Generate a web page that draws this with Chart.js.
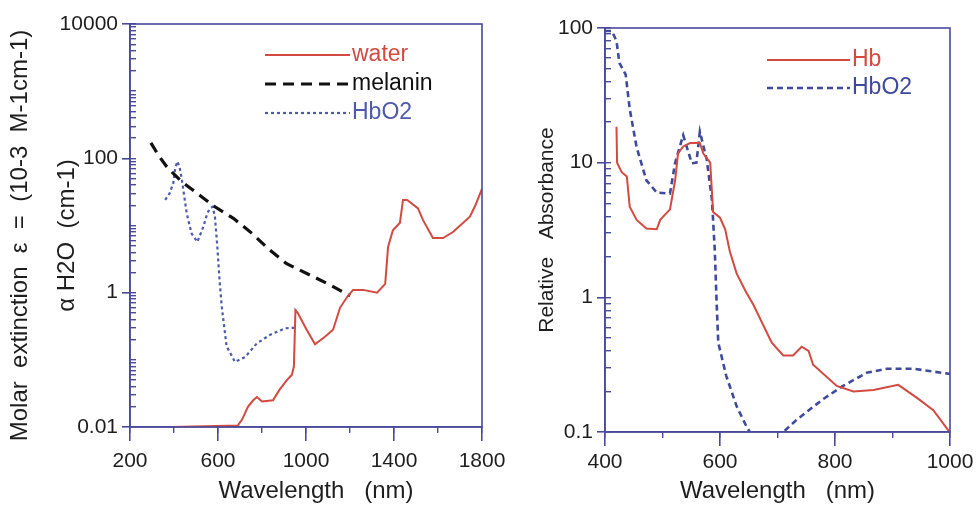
<!DOCTYPE html>
<html>
<head>
<meta charset="utf-8">
<script src="https://cdn.jsdelivr.net/npm/chart.js@4/dist/chart.umd.min.js"></script>
<style>
  html, body { margin: 0; padding: 0; background: #fff; }
  #wrap { position: relative; width: 976px; height: 506px; overflow: hidden; }
  #wrap canvas { position: absolute; top: 0; }
  #leftChart { left: 0; z-index: 2; }
  #rightChart { left: 490px; z-index: 1; }
</style>
</head>
<body>
<div id="wrap">
  <canvas id="rightChart" width="486" height="506"></canvas>
  <canvas id="leftChart" width="520" height="506"></canvas>
</div>
<script>
// left panel: water / melanin / HbO2 (log scale)
const waterNm  = [395, 690, 710, 736, 760, 777, 800, 850, 880, 913, 936, 945, 952, 962, 1003, 1041, 1086, 1123, 1155, 1191, 1214, 1260, 1323, 1360, 1373, 1395, 1427, 1441, 1460, 1509, 1532, 1577, 1623, 1668, 1745, 1770, 1800];
const waterAbs = [0.01, 0.0105, 0.013, 0.02, 0.025, 0.028, 0.024, 0.025, 0.036, 0.05, 0.06, 0.08, 0.55, 0.5, 0.28, 0.17, 0.22, 0.28, 0.6, 0.9, 1.1, 1.1, 1.0, 1.35, 4.8, 8.5, 11, 24, 24, 18, 12, 6.5, 6.5, 8, 13.5, 20, 35];

const melaninNm  = [295, 330, 367, 400, 435, 518, 586, 670, 753, 836, 912, 1018, 1110, 1200];
const melaninAbs = [170, 110, 75, 58, 45, 28, 19, 12.8, 7.7, 4.3, 2.7, 1.83, 1.3, 0.9];

const hbo2LeftNm  = [360, 380, 397, 405, 415, 425, 435, 458, 480, 506, 533, 551, 563, 576, 586, 597, 606, 617, 639, 677, 723, 776, 836, 905, 950];
const hbo2LeftAbs = [24, 30, 43, 70, 90, 75, 50, 15, 7.6, 5.7, 9.5, 15, 18, 19, 13.5, 4.8, 1.7, 0.62, 0.16, 0.093, 0.11, 0.175, 0.235, 0.295, 0.3];

// right panel: Hb / HbO2 relative absorbance
const hbNm  = [420, 421, 429, 438, 443, 455, 472, 490, 496, 513, 522, 527, 536, 548, 565, 571, 583, 588, 600, 609, 617, 629, 645, 658, 690, 710, 727, 742, 754, 762, 803, 832, 867, 910, 942, 971, 997, 1000];
const hbAbs = [18.5, 10, 8.5, 7.9, 4.7, 3.76, 3.24, 3.2, 3.76, 4.5, 7.4, 11.7, 13.2, 14, 14, 11.7, 10, 4.3, 3.9, 3.2, 2.2, 1.5, 1.1, 0.88, 0.46, 0.37, 0.37, 0.43, 0.40, 0.316, 0.22, 0.2, 0.205, 0.224, 0.18, 0.145, 0.103, 0.1];

const hbo2RightNm  = [400, 412, 420, 425, 436, 443, 455, 472, 490, 513, 522, 536, 551, 559, 565, 577, 586, 591, 594, 597, 611, 629, 646, 665, 690, 710, 733, 779, 814, 855, 890, 936, 1000];
const hbo2RightAbs = [95, 95, 80, 55, 45, 25, 13, 7.4, 6.0, 5.9, 10, 16, 9.9, 10, 17, 10.5, 5.3, 2.2, 0.95, 0.46, 0.26, 0.155, 0.11, 0.08, 0.085, 0.1, 0.123, 0.175, 0.22, 0.275, 0.295, 0.295, 0.27];

// axis ticks
const leftXTicks  = [200, 600, 1000, 1400, 1800];
const leftXMinor  = [200, 400, 600, 800, 1000, 1200, 1400, 1600, 1800];
const leftYTicks  = [0.01, 1, 100, 10000];
const rightXTicks = [400, 600, 800, 1000];
const rightXMinor = [400, 500, 600, 700, 800, 900, 1000];
const rightYTicks = [0.1, 1, 10, 100];

const axisColor = '#4a4a9c';
const textColor = '#1e1e1e';
const red = '#d24a40';
const FONT = "'Liberation Sans', Arial, sans-serif";

// 1..9 x 10^n between two decades
function logMinor(lo, hi) {
  const out = [];
  for (let e = lo; e < hi; e++) {
    for (let m = 1; m < 10; m++) out.push(+(m * Math.pow(10, e)).toPrecision(3));
  }
  out.push(Math.pow(10, hi));
  return out;
}

const pts = (xs, ys) => xs.map((x, i) => ({x: x, y: ys[i]}));
const setTicks = (vals) => (scale) => { scale.ticks = vals.map(v => ({value: v})); };

// box around the plot area
const framePlugin = {
  id: 'frame',
  afterDatasetsDraw(chart) {
    const {ctx, chartArea: a} = chart;
    ctx.save();
    ctx.strokeStyle = axisColor;
    ctx.lineWidth = 1.6;
    ctx.strokeRect(a.left, a.top, a.right - a.left, a.bottom - a.top);
    ctx.restore();
  }
};

// legend drawn inside the plot, line sample then label in the series colour
const lineLegend = {
  id: 'lineLegend',
  afterDraw(chart, args, opts) {
    const ctx = chart.ctx;
    ctx.save();
    ctx.font = opts.font;
    ctx.textBaseline = 'middle';
    chart.data.datasets.forEach((ds, i) => {
      const y = opts.y + i * opts.rowGap;
      ctx.strokeStyle = ds.borderColor;
      ctx.lineWidth = ds.borderWidth;
      ctx.setLineDash(ds.borderDash || []);
      ctx.beginPath();
      ctx.moveTo(opts.x, y);
      ctx.lineTo(opts.x + opts.lineLength, y);
      ctx.stroke();
      ctx.fillStyle = ds.borderColor;
      ctx.fillText(ds.label, opts.x + opts.lineLength + 2, y);
    });
    ctx.restore();
  }
};

function xAxes(min, max, major, minor, height, labelPad, titleText) {
  return {
    x: {
      type: 'linear', position: 'bottom', weight: 1, min: min, max: max,
      afterBuildTicks: setTicks(major),
      afterFit: (s) => { s.height = height; s.paddingLeft = 0; s.paddingRight = 0; },
      border: {color: axisColor, width: 1.6},
      grid: {drawOnChartArea: false, color: axisColor, lineWidth: 1.6, tickLength: 14},
      ticks: {autoSkip: false, maxRotation: 0, padding: labelPad, color: textColor,
              font: {family: FONT, size: 21}, callback: (v) => String(v)},
      title: {display: true, text: titleText, color: textColor,
              font: {family: FONT, size: 24}, padding: {top: 0, bottom: 0}}
    },
    xMinor: {
      type: 'linear', position: 'bottom', weight: 0, min: min, max: max,
      afterBuildTicks: setTicks(minor),
      afterFit: (s) => { s.height = 0; },
      border: {display: false},
      grid: {drawOnChartArea: false, color: axisColor, lineWidth: 1.4, tickLength: 6},
      ticks: {display: false}
    }
  };
}

function yAxes(min, max, major, minor, width, title) {
  return {
    y: {
      type: 'logarithmic', position: 'left', weight: 1, min: min, max: max,
      afterBuildTicks: setTicks(major),
      afterFit: (s) => { s.width = width; },
      border: {color: axisColor, width: 1.6},
      grid: {drawOnChartArea: false, color: axisColor, lineWidth: 1.6, tickLength: 8},
      ticks: {autoSkip: false, padding: 4, color: textColor,
              font: {family: FONT, size: 21}, callback: (v) => String(v)},
      title: title
    },
    yMinor: {
      type: 'logarithmic', position: 'left', weight: 0, min: min, max: max,
      afterBuildTicks: setTicks(minor),
      afterFit: (s) => { s.width = 0; },
      border: {display: false},
      grid: {drawOnChartArea: false, color: axisColor, lineWidth: 1.4, tickLength: -6},
      ticks: {display: false}
    }
  };
}

const baseOptions = {
  responsive: false,
  animation: false,
  elements: {point: {radius: 0}, line: {tension: 0}}
};

new Chart(document.getElementById('leftChart'), {
  type: 'line',
  data: {
    datasets: [
      {label: 'water', data: pts(waterNm, waterAbs), borderColor: red, borderWidth: 2, fill: false},
      {label: 'melanin', data: pts(melaninNm, melaninAbs), borderColor: '#111111', borderWidth: 3.2, borderDash: [11, 7], fill: false},
      {label: 'HbO2', data: pts(hbo2LeftNm, hbo2LeftAbs), borderColor: '#4f5aab', borderWidth: 2.2, borderDash: [3, 3], fill: false}
    ]
  },
  options: Object.assign({}, baseOptions, {
    layout: {padding: {left: 0, top: 24, right: 38, bottom: 0}},
    scales: Object.assign(
      xAxes(200, 1800, leftXTicks, leftXMinor, 79, 8, '   Wavelength   (nm)'),
      yAxes(0.01, 10000, leftYTicks, logMinor(-2, 4), 130, {
        display: true,
        text: ['Molar  extinction  ε  =  (10-3  M-1cm-1)   ', 'α H2O  (cm-1)   '],
        color: textColor,
        font: {family: FONT, size: 24, lineHeight: '47px'},
        padding: {top: -3, bottom: 0}
      })
    ),
    plugins: {
      legend: {display: false},
      tooltip: {enabled: false},
      lineLegend: {x: 265, y: 55, rowGap: 29, lineLength: 85, font: "23px " + FONT}
    }
  }),
  plugins: [framePlugin, lineLegend]
});

new Chart(document.getElementById('rightChart'), {
  type: 'line',
  data: {
    datasets: [
      {label: 'Hb', data: pts(hbNm, hbAbs), borderColor: red, borderWidth: 2, fill: false},
      {label: 'HbO2', data: pts(hbo2RightNm, hbo2RightAbs), borderColor: '#3f4b9a', borderWidth: 2.6, borderDash: [6, 4], fill: false}
    ]
  },
  options: Object.assign({}, baseOptions, {
    layout: {padding: {left: 0, top: 28, right: 26, bottom: 0}},
    scales: Object.assign(
      xAxes(400, 1000, rightXTicks, rightXMinor, 74, 4, 'Wavelength   (nm)'),
      yAxes(0.1, 100, rightYTicks, logMinor(-1, 2), 115, {
        display: true,
        text: 'Relative   Absorbance',
        color: textColor,
        font: {family: FONT, size: 21},
        padding: {top: 45, bottom: 0}
      })
    ),
    plugins: {
      legend: {display: false},
      tooltip: {enabled: false},
      lineLegend: {x: 277, y: 60, rowGap: 28, lineLength: 83, font: "23px " + FONT}
    }
  }),
  plugins: [framePlugin, lineLegend]
});
</script>
</body>
</html>
